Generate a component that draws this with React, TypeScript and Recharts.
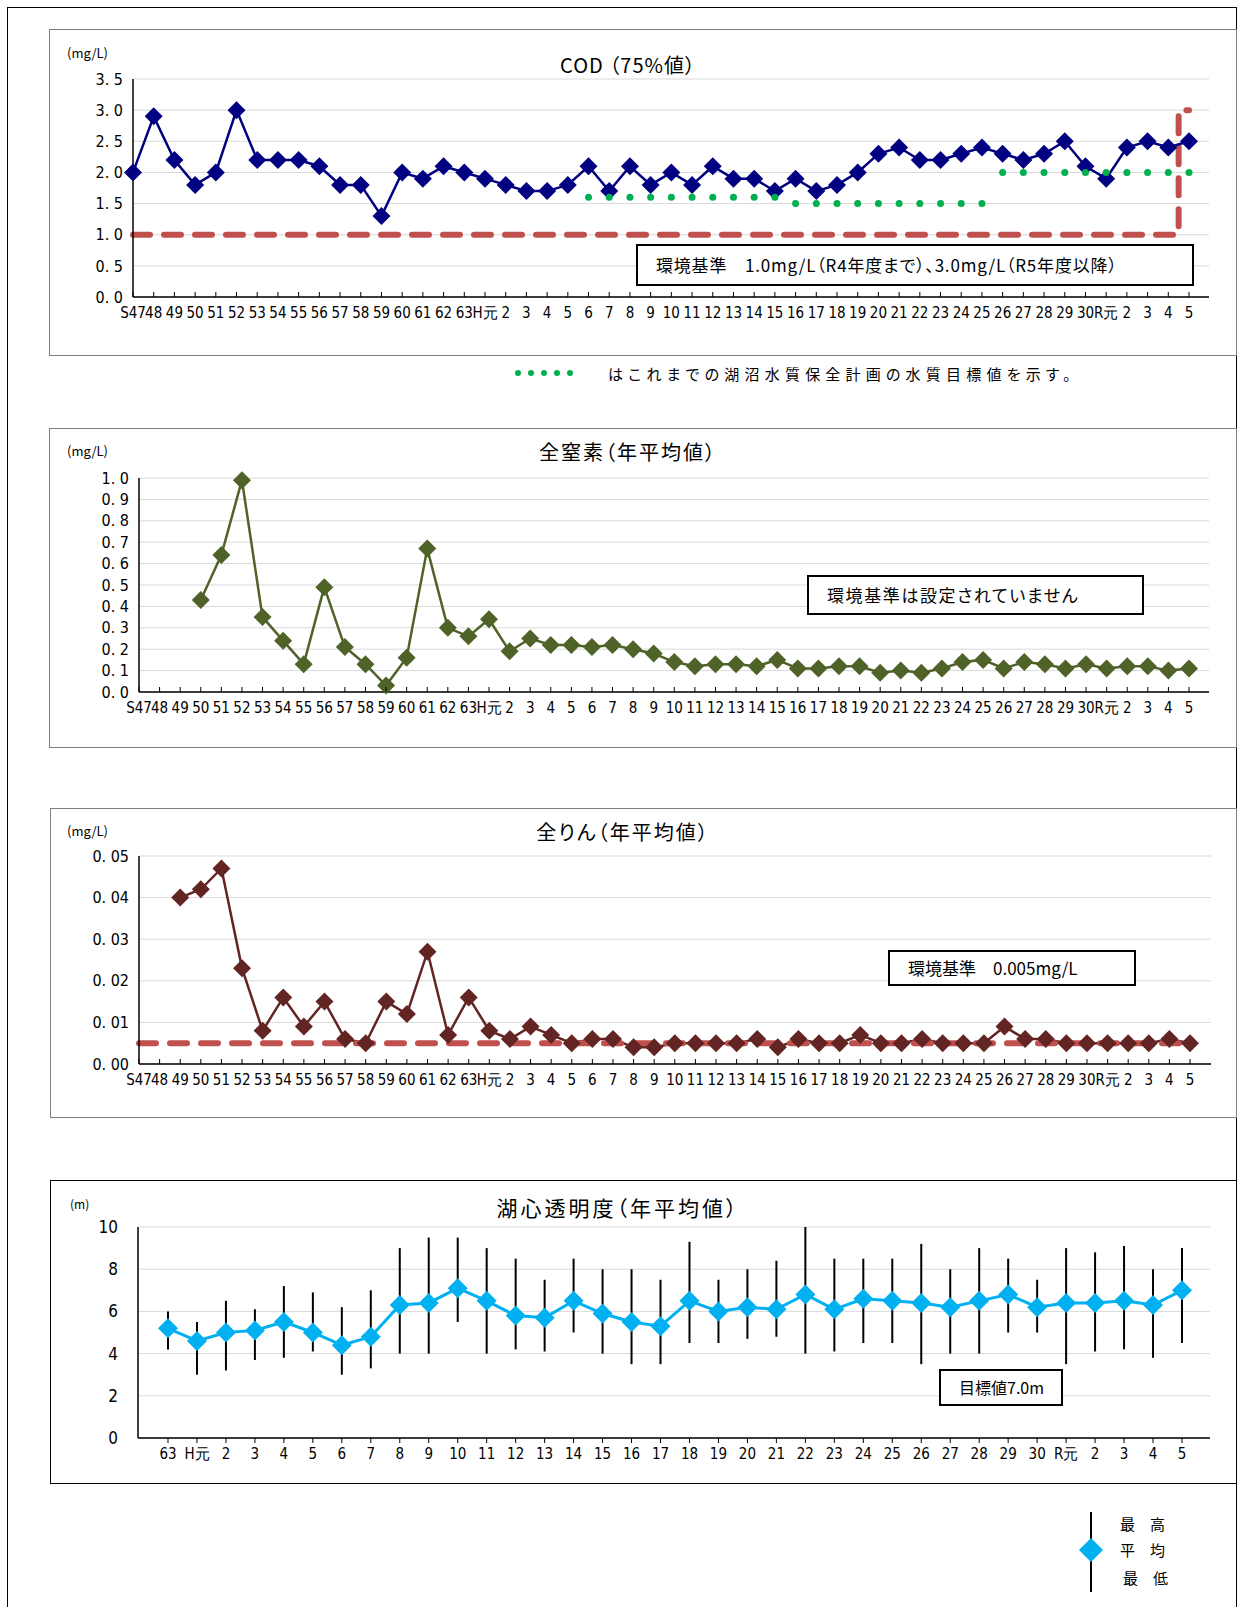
import React from 'react';
import { LineChart, Line, XAxis, YAxis, CartesianGrid, ErrorBar } from 'recharts';

// 年度ラベル（S47〜R5）
const LONG_LABELS = [
  'S47', '48', '49', '50', '51', '52', '53', '54', '55', '56', '57', '58', '59', '60', '61', '62', '63',
  'H元', '2', '3', '4', '5', '6', '7', '8', '9', '10', '11', '12', '13', '14', '15', '16', '17', '18', '19', '20',
  '21', '22', '23', '24', '25', '26', '27', '28', '29', '30', 'R元', '2', '3', '4', '5',
];
// 年度ラベル（S63〜R5）
const SHORT_LABELS = [
  '63', 'H元', '2', '3', '4', '5', '6', '7', '8', '9', '10', '11', '12', '13', '14', '15', '16', '17', '18', '19', '20',
  '21', '22', '23', '24', '25', '26', '27', '28', '29', '30', 'R元', '2', '3', '4', '5',
];

// COD 75%値
const COD = [
  2.0, 2.9, 2.2, 1.8, 2.0, 3.0, 2.2, 2.2, 2.2, 2.1, 1.8, 1.8, 1.3, 2.0, 1.9, 2.1, 2.0,
  1.9, 1.8, 1.7, 1.7, 1.8, 2.1, 1.7, 2.1, 1.8, 2.0,
  1.8, 2.1, 1.9, 1.9, 1.7, 1.9, 1.7, 1.8, 2.0, 2.3,
  2.4, 2.2, 2.2, 2.3, 2.4, 2.3, 2.2, 2.3, 2.5, 2.1,
  1.9, 2.4, 2.5, 2.4, 2.5,
];
// 湖沼水質保全計画の水質目標値
const COD_TARGET = [
  null, null, null, null, null, null, null, null, null, null, null, null, null, null, null, null, null,
  null, null, null, null, null, 1.6, 1.6, 1.6, 1.6, 1.6,
  1.6, 1.6, 1.6, 1.6, 1.6, 1.5, 1.5, 1.5, 1.5, 1.5,
  1.5, 1.5, 1.5, 1.5, 1.5, 2.0, 2.0, 2.0, 2.0, 2.0,
  2.0, 2.0, 2.0, 2.0, 2.0,
];
// 環境基準
const COD_STANDARD = [
  1.0, 1.0, 1.0, 1.0, 1.0, 1.0, 1.0, 1.0, 1.0, 1.0, 1.0, 1.0, 1.0, 1.0, 1.0, 1.0, 1.0,
  1.0, 1.0, 1.0, 1.0, 1.0, 1.0, 1.0, 1.0, 1.0, 1.0,
  1.0, 1.0, 1.0, 1.0, 1.0, 1.0, 1.0, 1.0, 1.0, 1.0,
  1.0, 1.0, 1.0, 1.0, 1.0, 1.0, 1.0, 1.0, 1.0, 1.0,
  1.0, 1.0, 1.0, 1.0, 3.0,
];
const COD_TICKS = [0, 0.5, 1.0, 1.5, 2.0, 2.5, 3.0, 3.5];

// 全窒素 年平均値
const TN = [
  null, null, null, 0.43, 0.64, 0.99, 0.35, 0.24, 0.13, 0.49, 0.21, 0.13, 0.03, 0.16, 0.67, 0.30, 0.26,
  0.34, 0.19, 0.25, 0.22, 0.22, 0.21, 0.22, 0.20, 0.18, 0.14,
  0.12, 0.13, 0.13, 0.12, 0.15, 0.11, 0.11, 0.12, 0.12, 0.09,
  0.10, 0.09, 0.11, 0.14, 0.15, 0.11, 0.14, 0.13, 0.11, 0.13,
  0.11, 0.12, 0.12, 0.10, 0.11,
];
const TN_TICKS = [0, 0.1, 0.2, 0.3, 0.4, 0.5, 0.6, 0.7, 0.8, 0.9, 1.0];

// 全りん 年平均値
const TP = [
  null, null, 0.040, 0.042, 0.047, 0.023, 0.008, 0.016, 0.009, 0.015, 0.006, 0.005, 0.015, 0.012, 0.027, 0.007, 0.016,
  0.008, 0.006, 0.009, 0.007, 0.005, 0.006, 0.006, 0.004, 0.004, 0.005,
  0.005, 0.005, 0.005, 0.006, 0.004, 0.006, 0.005, 0.005, 0.007, 0.005,
  0.005, 0.006, 0.005, 0.005, 0.005, 0.009, 0.006, 0.006, 0.005, 0.005,
  0.005, 0.005, 0.005, 0.006, 0.005,
];
const TP_STANDARD = [
  0.005, 0.005, 0.005, 0.005, 0.005, 0.005, 0.005, 0.005, 0.005, 0.005, 0.005, 0.005, 0.005, 0.005, 0.005, 0.005, 0.005,
  0.005, 0.005, 0.005, 0.005, 0.005, 0.005, 0.005, 0.005, 0.005, 0.005,
  0.005, 0.005, 0.005, 0.005, 0.005, 0.005, 0.005, 0.005, 0.005, 0.005,
  0.005, 0.005, 0.005, 0.005, 0.005, 0.005, 0.005, 0.005, 0.005, 0.005,
  0.005, 0.005, 0.005, 0.005, 0.005,
];
const TP_TICKS = [0, 0.01, 0.02, 0.03, 0.04, 0.05];

// 湖心透明度（m）
const SD_MEAN = [
  5.2, 4.6, 5.0, 5.1, 5.5, 5.0, 4.4, 4.8, 6.3, 6.4, 7.1, 6.5, 5.8, 5.7, 6.5, 5.9, 5.5, 5.3,
  6.5, 6.0, 6.2, 6.1, 6.8, 6.1, 6.6, 6.5, 6.4, 6.2, 6.5, 6.8, 6.2, 6.4, 6.4, 6.5, 6.3, 7.0,
];
const SD_MAX = [
  6.0, 5.5, 6.5, 6.1, 7.2, 6.9, 6.2, 7.0, 9.0, 9.5, 9.5, 9.0, 8.5, 7.5, 8.5, 8.0, 8.0, 7.5,
  9.3, 7.5, 8.0, 8.4, 10.0, 8.5, 8.5, 8.5, 9.2, 8.0, 9.0, 8.5, 7.5, 9.0, 8.8, 9.1, 8.0, 9.0,
];
const SD_MIN = [
  4.2, 3.0, 3.2, 3.7, 3.8, 4.1, 3.0, 3.3, 4.0, 4.0, 5.5, 4.0, 4.2, 4.1, 5.0, 4.0, 3.5, 3.5,
  4.5, 4.5, 4.7, 4.8, 4.0, 4.1, 4.5, 4.5, 3.5, 4.0, 4.0, 5.0, 5.0, 3.5, 4.1, 4.2, 3.8, 4.5,
];
const SD_TICKS = [0, 2, 4, 6, 8, 10];

const FONT_NARROW = "'Liberation Sans Narrow','DejaVu Sans Condensed','Liberation Sans',sans-serif";
const FONT_JP = "'Noto Sans CJK JP','Noto Sans',sans-serif";
const RED = '#C0504D';

const codData = LONG_LABELS.map((_, i) => ({ i, cod: COD[i], target: COD_TARGET[i], std: COD_STANDARD[i] }));
const tnData = LONG_LABELS.map((_, i) => ({ i, tn: TN[i] }));
const tpData = LONG_LABELS.map((_, i) => ({ i, tp: TP[i], std: TP_STANDARD[i] }));
const sdData = SHORT_LABELS.map((_, i) => ({
  i,
  mean: SD_MEAN[i],
  err: [+(SD_MEAN[i] - SD_MIN[i]).toFixed(2), +(SD_MAX[i] - SD_MEAN[i]).toFixed(2)],
}));

const fmt1 = (v: number) => v.toFixed(1).replace('.', '. ');
const fmt2 = (v: number) => v.toFixed(2).replace('.', '. ');

function diamond(color: string, r: number) {
  return (p: any) => {
    const { cx, cy, index, value } = p;
    if (cx == null || cy == null || value == null) return <g key={`d${index}`} />;
    return (
      <polygon
        key={`d${index}`}
        points={`${cx},${cy - r} ${cx + r},${cy} ${cx},${cy + r} ${cx - r},${cy}`}
        fill={color}
      />
    );
  };
}

const greenDot = (p: any) => {
  const { cx, cy, index, value } = p;
  if (cx == null || cy == null || value == null) return <g key={`g${index}`} />;
  return <circle key={`g${index}`} cx={cx} cy={cy} r={3.5} fill="#00B050" />;
};

function xTick(labels: string[], inward: boolean, size: number) {
  return (p: any) => {
    const { x, y, payload } = p;
    return (
      <g>
        <line x1={x} x2={x} y1={inward ? y - 5 : y} y2={inward ? y : y + 5} stroke="#000" strokeWidth={1} />
        <text x={x} y={y + 21} textAnchor="middle" fontFamily={FONT_NARROW} fontSize={size} fill="#000">
          {labels[payload.value]}
        </text>
      </g>
    );
  };
}

const yTickStyle = { fontFamily: FONT_NARROW, fontSize: 16, fill: '#000' };

function Frame({ x, y, w, h, color = '#7f7f7f' }: { x: number; y: number; w: number; h: number; color?: string }) {
  return (
    <div
      style={{
        position: 'absolute', left: x, top: y, width: w, height: h,
        border: `1.5px solid ${color}`, boxSizing: 'border-box',
      }}
    />
  );
}

function Txt({ x, y, size, children, center = false, spacing = 0, w = 700 }: any) {
  return (
    <div
      style={{
        position: 'absolute', left: center ? x - w / 2 : x, top: y - size, width: w, height: size * 2,
        lineHeight: `${size * 2}px`, fontSize: size, fontFamily: FONT_JP, letterSpacing: spacing,
        textAlign: center ? 'center' : 'left', whiteSpace: 'nowrap', color: '#000',
        fontFeatureSettings: "'palt'",
      }}
    >
      {children}
    </div>
  );
}

function NoteBox({ x, y, w, h, size, spacing = 0, children }: any) {
  return (
    <div
      style={{
        position: 'absolute', left: x, top: y, width: w, height: h, border: '2px solid #000',
        boxSizing: 'border-box', background: '#fff', fontFamily: FONT_JP, fontSize: size,
        letterSpacing: spacing, lineHeight: `${h - 4}px`, paddingLeft: 18, whiteSpace: 'nowrap',
        fontFeatureSettings: "'palt'",
      }}
    >
      {children}
    </div>
  );
}

const borderAxis = { stroke: '#595959', strokeWidth: 1.5 };
const mainAxis = { stroke: '#000', strokeWidth: 1.5 };

export default function App() {
  return (
    <div style={{ position: 'absolute', left: 0, top: 0, width: 1237, height: 1607, background: '#fff', overflow: 'hidden' }}>
      {/* page frame */}
      <div style={{ position: 'absolute', left: 7, top: 7, width: 1228, height: 1620, borderLeft: '1.5px solid #000', borderTop: '1.5px solid #000', borderRight: '1.5px solid #000' }} />

      {/* COD */}
      <Frame x={49} y={29} w={1188} h={327} />
      <div style={{ position: 'absolute', left: 0, top: 29 }}>
        <LineChart width={1237} height={300} data={codData} margin={{ top: 50, right: 28, bottom: 2, left: 73 }}>
          <CartesianGrid vertical={false} stroke="#d9d9d9" />
          <XAxis dataKey="i" type="category" interval={0} padding={{ left: 0, right: 20 }} height={30}
            tickSize={0} tickMargin={0} tickLine={false} axisLine={mainAxis} tick={xTick(LONG_LABELS, true, 15)} />
          <XAxis xAxisId="top" dataKey="i" orientation="top" height={0} tick={false} tickLine={false}
            axisLine={borderAxis} padding={{ left: 0, right: 20 }} />
          <YAxis domain={[0, 3.5]} ticks={COD_TICKS} interval={0} width={60} tickLine={false} tickSize={0} tickMargin={10}
            axisLine={mainAxis} tickFormatter={fmt1} tick={yTickStyle} />
          <YAxis yAxisId="right" orientation="right" width={0} tick={false} tickLine={false} axisLine={borderAxis} />
          <Line dataKey="std" type="step" stroke={RED} strokeWidth={6} strokeDasharray="17 14" strokeLinecap="round"
            dot={false} activeDot={false} isAnimationActive={false} />
          <Line dataKey="cod" type="linear" stroke="#000080" strokeWidth={2.5} dot={diamond('#000080', 9)}
            activeDot={false} isAnimationActive={false} />
          <Line dataKey="target" stroke="none" dot={greenDot} activeDot={false} isAnimationActive={false} />
        </LineChart>
      </div>
      <Txt x={628} y={65} size={20} center spacing={1}>COD （75%値）</Txt>
      <Txt x={67} y={53} size={13}>(mg/L)</Txt>
      <NoteBox x={636} y={244} w={558} h={42} size={17} spacing={0.8}>
        環境基準　1.0mg/L（R4年度まで）、3.0mg/L（R5年度以降）
      </NoteBox>

      {/* note line */}
      <svg style={{ position: 'absolute', left: 510, top: 366 }} width={70} height={16}>
        {[8, 21, 34, 47, 60].map((cx) => (
          <circle key={cx} cx={cx} cy={7} r={3} fill="#00B050" />
        ))}
      </svg>
      <Txt x={608} y={374} size={15} spacing={5.2}>はこれまでの湖沼水質保全計画の水質目標値を示す。</Txt>

      {/* 全窒素 */}
      <Frame x={49} y={428} w={1188} h={320} />
      <div style={{ position: 'absolute', left: 0, top: 428 }}>
        <LineChart width={1237} height={296} data={tnData} margin={{ top: 50, right: 28, bottom: 2, left: 79 }}>
          <CartesianGrid vertical={false} stroke="#d9d9d9" />
          <XAxis dataKey="i" type="category" interval={0} padding={{ left: 0, right: 20 }} height={30}
            tickSize={0} tickMargin={0} tickLine={false} axisLine={mainAxis} tick={xTick(LONG_LABELS, true, 15)} />
          <XAxis xAxisId="top" dataKey="i" orientation="top" height={0} tick={false} tickLine={false}
            axisLine={borderAxis} padding={{ left: 0, right: 20 }} />
          <YAxis domain={[0, 1]} ticks={TN_TICKS} interval={0} width={60} tickLine={false} tickSize={0} tickMargin={10}
            axisLine={mainAxis} tickFormatter={fmt1} tick={yTickStyle} />
          <YAxis yAxisId="right" orientation="right" width={0} tick={false} tickLine={false} axisLine={borderAxis} />
          <Line dataKey="tn" type="linear" stroke="#4F6228" strokeWidth={2.5} dot={diamond('#4F6228', 9)}
            activeDot={false} isAnimationActive={false} />
        </LineChart>
      </div>
      <Txt x={628} y={452} size={20} center spacing={2}>全窒素（年平均値）</Txt>
      <Txt x={67} y={451} size={13}>(mg/L)</Txt>
      <NoteBox x={807} y={575} w={337} h={40} size={17} spacing={1.6}>環境基準は設定されていません</NoteBox>

      {/* 全りん */}
      <Frame x={50} y={808} w={1187} h={310} />
      <div style={{ position: 'absolute', left: 0, top: 809 }}>
        <LineChart width={1237} height={287} data={tpData} margin={{ top: 47, right: 26, bottom: 2, left: 79 }}>
          <CartesianGrid vertical={false} stroke="#d9d9d9" />
          <XAxis dataKey="i" type="category" interval={0} padding={{ left: 0, right: 21 }} height={30}
            tickSize={0} tickMargin={0} tickLine={false} axisLine={mainAxis} tick={xTick(LONG_LABELS, true, 15)} />
          <XAxis xAxisId="top" dataKey="i" orientation="top" height={0} tick={false} tickLine={false}
            axisLine={borderAxis} padding={{ left: 0, right: 21 }} />
          <YAxis domain={[0, 0.05]} ticks={TP_TICKS} interval={0} width={60} tickLine={false} tickSize={0} tickMargin={10}
            axisLine={mainAxis} tickFormatter={fmt2} tick={yTickStyle} />
          <YAxis yAxisId="right" orientation="right" width={0} tick={false} tickLine={false} axisLine={borderAxis} />
          <Line dataKey="tp" type="linear" stroke="#632523" strokeWidth={2.5} dot={diamond('#632523', 9)}
            activeDot={false} isAnimationActive={false} />
          <Line dataKey="std" type="linear" stroke={RED} strokeWidth={6} strokeDasharray="17 14" strokeLinecap="round"
            dot={false} activeDot={false} isAnimationActive={false} />
        </LineChart>
      </div>
      <Txt x={623} y={832} size={20} center spacing={2}>全りん（年平均値）</Txt>
      <Txt x={67} y={831} size={13}>(mg/L)</Txt>
      <NoteBox x={888} y={950} w={248} h={36} size={17}>環境基準　0.005mg/L</NoteBox>

      {/* 湖心透明度 */}
      <Frame x={50} y={1180} w={1187} h={304} color="#000" />
      <div style={{ position: 'absolute', left: 0, top: 1181 }}>
        <LineChart width={1237} height={289} data={sdData} margin={{ top: 46, right: 27, bottom: 2, left: 78 }}>
          <CartesianGrid vertical={false} stroke="#d9d9d9" />
          <XAxis dataKey="i" type="category" interval={0} padding={{ left: 30, right: 28 }} height={30}
            tickSize={0} tickMargin={0} tickLine={false} axisLine={mainAxis} tick={xTick(SHORT_LABELS, false, 15)} />
          <XAxis xAxisId="top" dataKey="i" orientation="top" height={0} tick={false} tickLine={false}
            axisLine={borderAxis} padding={{ left: 30, right: 28 }} />
          <YAxis domain={[0, 10]} ticks={SD_TICKS} interval={0} width={60} tickLine={false} tickSize={0} tickMargin={20}
            axisLine={mainAxis} tick={{ ...yTickStyle, fontSize: 17 }} />
          <YAxis yAxisId="right" orientation="right" width={0} tick={false} tickLine={false} axisLine={borderAxis} />
          <Line dataKey="mean" type="linear" stroke="#00B0F0" strokeWidth={3} dot={diamond('#00B0F0', 10)}
            activeDot={false} isAnimationActive={false}>
            <ErrorBar dataKey="err" direction="y" width={0} stroke="#000" strokeWidth={2} />
          </Line>
        </LineChart>
      </div>
      <Txt x={618} y={1207} size={21} center spacing={3}>湖心透明度（年平均値）</Txt>
      <Txt x={70} y={1204} size={12}>(m)</Txt>
      <NoteBox x={939} y={1369} w={124} h={37} size={16}>目標値7.0m</NoteBox>

      {/* 凡例 */}
      <svg style={{ position: 'absolute', left: 1070, top: 1505 }} width={50} height={95}>
        <line x1={21} x2={21} y1={7} y2={87} stroke="#000" strokeWidth={2} />
        <polygon points="21,33 33,45 21,57 9,45" fill="#00B0F0" />
      </svg>
      <Txt x={1120} y={1524} size={15}>最　高</Txt>
      <Txt x={1120} y={1550} size={15}>平　均</Txt>
      <Txt x={1123} y={1578} size={15}>最　低</Txt>
    </div>
  );
}
